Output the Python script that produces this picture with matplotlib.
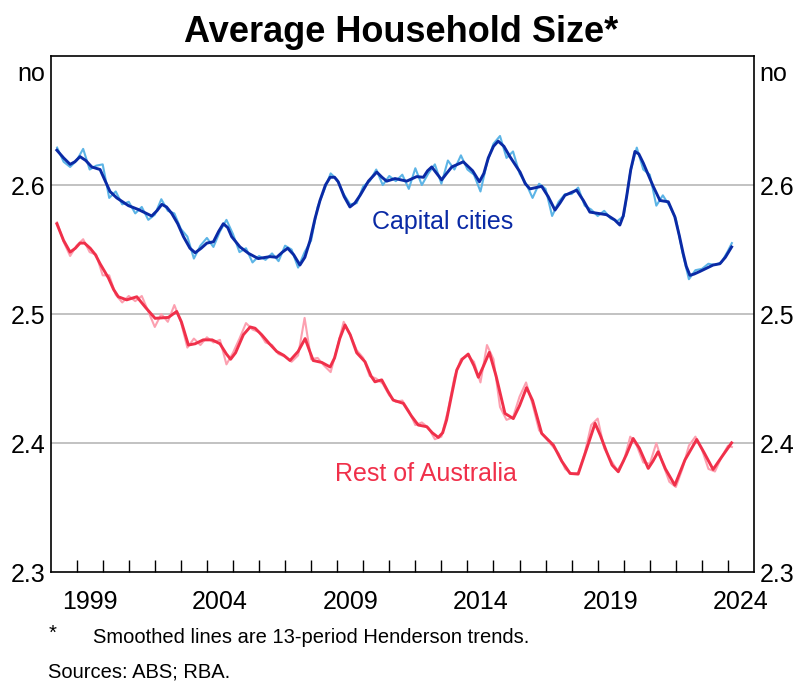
import numpy as np
import matplotlib
matplotlib.use('Agg')
import matplotlib.pyplot as plt
from matplotlib.ticker import FixedLocator, NullFormatter

plt.rcParams['font.family'] = ['Liberation Sans', 'DejaVu Sans']

# Data

# raw series, quarterly
raw_dates = [1998.25 + 0.25 * i for i in range(104)] + [2024.15]

cap_raw = [2.629, 2.618, 2.614, 2.619, 2.628, 2.612, 2.615, 2.616,
           2.590, 2.595, 2.585, 2.587, 2.578, 2.583, 2.573, 2.577,
           2.589, 2.580, 2.578, 2.566, 2.560, 2.543, 2.553, 2.559,
           2.552, 2.564, 2.573, 2.562, 2.548, 2.551, 2.540, 2.545,
           2.542, 2.547, 2.541, 2.553, 2.550, 2.536, 2.548, 2.557,
           2.583, 2.596, 2.609, 2.604, 2.593, 2.585, 2.586, 2.599,
           2.603, 2.612, 2.600, 2.607, 2.603, 2.608, 2.597, 2.613,
           2.600, 2.609, 2.616, 2.601, 2.619, 2.612, 2.623, 2.612,
           2.608, 2.595, 2.617, 2.632, 2.638, 2.621, 2.626, 2.609,
           2.601, 2.590, 2.601, 2.597, 2.576, 2.587, 2.593, 2.593,
           2.598, 2.584, 2.581, 2.576, 2.580, 2.574, 2.572, 2.576,
           2.610, 2.629, 2.612, 2.608, 2.584, 2.592, 2.584, 2.574,
           2.548, 2.527, 2.534, 2.535, 2.539, 2.538, 2.540, 2.549,
           2.555]

rest_raw = [2.571, 2.556, 2.545, 2.553, 2.558, 2.548, 2.546, 2.530,
            2.530, 2.515, 2.509, 2.514, 2.510, 2.514, 2.502, 2.490,
            2.500, 2.494, 2.507, 2.494, 2.474, 2.481, 2.476, 2.482,
            2.478, 2.480, 2.461, 2.470, 2.481, 2.493, 2.488, 2.486,
            2.478, 2.476, 2.469, 2.467, 2.463, 2.468, 2.497, 2.465,
            2.466, 2.460, 2.455, 2.474, 2.494, 2.484, 2.472, 2.466,
            2.452, 2.450, 2.446, 2.437, 2.432, 2.433, 2.425, 2.414,
            2.416, 2.412, 2.403, 2.405, 2.425, 2.451, 2.465, 2.468,
            2.463, 2.447, 2.476, 2.465, 2.428, 2.418, 2.420, 2.436,
            2.447, 2.430, 2.410, 2.404, 2.398, 2.392, 2.380, 2.376,
            2.377, 2.392, 2.414, 2.419, 2.396, 2.387, 2.379, 2.386,
            2.405, 2.398, 2.385, 2.384, 2.400, 2.384, 2.370, 2.366,
            2.380, 2.398, 2.405, 2.395, 2.380, 2.378, 2.389, 2.398,
            2.397]

# Henderson trends
cap_trend_dates = [1998.24, 1998.5, 1998.75, 1998.93, 1999.13, 1999.35, 1999.58,
                   1999.9, 2000.1, 2000.28, 2000.54, 2000.99, 2001.37, 2001.88,
                   2002.08, 2002.27, 2002.45, 2002.65, 2002.88, 2003.1, 2003.35,
                   2003.55, 2003.78, 2004.0, 2004.25, 2004.45, 2004.63, 2004.8,
                   2004.95, 2005.27, 2005.6, 2005.97, 2006.42, 2006.68, 2006.9,
                   2007.1, 2007.33, 2007.57, 2007.76, 2007.96, 2008.15, 2008.34,
                   2008.55, 2008.73, 2008.9, 2009.04, 2009.27, 2009.49, 2009.68,
                   2009.88, 2010.2, 2010.52, 2010.72, 2010.9, 2011.22, 2011.67,
                   2012.05, 2012.31, 2012.47, 2012.63, 2012.82, 2013.01, 2013.2,
                   2013.4, 2013.84, 2014.2, 2014.46, 2014.63, 2014.8, 2015.0,
                   2015.18, 2015.4, 2015.63, 2016.02, 2016.22, 2016.4, 2016.85,
                   2017.1, 2017.36, 2017.55, 2017.74, 2018.19, 2018.45, 2018.7,
                   2019.34, 2019.65, 2019.85, 2019.98, 2020.11, 2020.27, 2020.43,
                   2020.58, 2020.75, 2021.13, 2021.39, 2021.71, 2021.96, 2022.13,
                   2022.28, 2022.4, 2022.54, 2022.7, 2022.92, 2023.43, 2023.69,
                   2023.9, 2024.14]
cap_trend = [2.627, 2.621, 2.616, 2.618, 2.622, 2.619, 2.614,
             2.612, 2.603, 2.595, 2.590, 2.584, 2.581, 2.576,
             2.580, 2.585, 2.583, 2.578, 2.570, 2.560, 2.551,
             2.5475, 2.551, 2.555, 2.556, 2.564, 2.570, 2.567,
             2.560, 2.552, 2.547, 2.543, 2.5445, 2.544, 2.548,
             2.551, 2.546, 2.538, 2.544, 2.557, 2.574, 2.588,
             2.600, 2.606, 2.606, 2.6025, 2.591, 2.583, 2.586,
             2.592, 2.603, 2.610, 2.606, 2.603, 2.605, 2.603,
             2.6065, 2.606, 2.611, 2.614, 2.609, 2.604, 2.609,
             2.614, 2.618, 2.611, 2.6025, 2.609, 2.621, 2.630,
             2.634, 2.630, 2.622, 2.610, 2.601, 2.597, 2.599,
             2.591, 2.5806, 2.586, 2.592, 2.596, 2.588, 2.579,
             2.577, 2.573, 2.569, 2.576, 2.591, 2.612, 2.626,
             2.624, 2.617, 2.599, 2.588, 2.587, 2.5754, 2.561,
             2.547, 2.537, 2.530, 2.531, 2.533, 2.538, 2.539,
             2.544, 2.552]

rest_trend_dates = [1998.24, 1998.5, 1998.75, 1998.95, 1999.13, 1999.3, 1999.52,
                    1999.72, 1999.9, 2000.22, 2000.42, 2000.6, 2000.92, 2001.31,
                    2001.65, 2002.01, 2002.52, 2002.7, 2002.84, 2003.02, 2003.29,
                    2003.55, 2003.86, 2004.2, 2004.5, 2004.75, 2004.91, 2005.1,
                    2005.4, 2005.66, 2005.85, 2006.1, 2006.4, 2006.68, 2006.95,
                    2007.19, 2007.5, 2007.77, 2007.95, 2008.08, 2008.41, 2008.73,
                    2008.9, 2009.1, 2009.3, 2009.5, 2009.75, 2010.07, 2010.3,
                    2010.45, 2010.71, 2010.95, 2011.15, 2011.54, 2011.85, 2012.11,
                    2012.44, 2012.65, 2012.88, 2013.05, 2013.2, 2013.4, 2013.59,
                    2013.8, 2014.03, 2014.25, 2014.42, 2014.6, 2014.84, 2015.1,
                    2015.44, 2015.76, 2016.0, 2016.27, 2016.5, 2016.85, 2017.3,
                    2017.62, 2017.94, 2018.25, 2018.6, 2018.9, 2019.1, 2019.34,
                    2019.55, 2019.79, 2020.1, 2020.36, 2020.6, 2020.94, 2021.12,
                    2021.32, 2021.6, 2021.96, 2022.35, 2022.8, 2023.1, 2023.43,
                    2023.75, 2024.14]
rest_trend = [2.570, 2.557, 2.548, 2.551, 2.555, 2.555, 2.551,
              2.546, 2.539, 2.528, 2.519, 2.5134, 2.511, 2.5134,
              2.505, 2.4967, 2.4974, 2.500, 2.502, 2.494, 2.476,
              2.477, 2.480, 2.480, 2.477, 2.469, 2.465, 2.470,
              2.484, 2.490, 2.489, 2.484, 2.477, 2.471, 2.468,
              2.464, 2.471, 2.481, 2.471, 2.464, 2.4625, 2.459,
              2.466, 2.481, 2.4915, 2.484, 2.470, 2.463, 2.452,
              2.4475, 2.449, 2.440, 2.4333, 2.4308, 2.421, 2.414,
              2.4127, 2.408, 2.4044, 2.408, 2.418, 2.438, 2.4566,
              2.465, 2.469, 2.460, 2.451, 2.459, 2.4703, 2.452,
              2.423, 2.419, 2.429, 2.443, 2.433, 2.4075, 2.3984,
              2.386, 2.3765, 2.376, 2.397, 2.4153, 2.406, 2.3933,
              2.383, 2.3778, 2.391, 2.4036, 2.396, 2.3804, 2.386,
              2.3933, 2.380, 2.3674, 2.387, 2.4028, 2.392, 2.3796,
              2.389, 2.4002]

year_labels = [1999, 2004, 2009, 2014, 2019, 2024]
y_ticks = [2.3, 2.4, 2.5, 2.6]

# colours
cap_dark = '#0A2AA5'
cap_light = '#5CB4E6'
rest_dark = '#F0304A'
rest_light = '#FCA0B0'

fig = plt.figure(figsize=(8.03, 6.91), dpi=100)
ax = fig.add_axes([0.063, 0.172, 0.876, 0.747])

# a. gridlines
for v in [2.4, 2.5, 2.6]:
    ax.axhline(v, color='#BDBDBD', lw=1.3, zorder=1)

# b. series
ax.plot(raw_dates, cap_raw, color=cap_light, lw=1.5, zorder=2)
ax.plot(raw_dates, rest_raw, color=rest_light, lw=1.5, zorder=2)
ax.plot(cap_trend_dates, cap_trend, color=cap_dark, lw=2.1, zorder=3,
        solid_joinstyle='round')
ax.plot(rest_trend_dates, rest_trend, color=rest_dark, lw=2.1, zorder=3,
        solid_joinstyle='round')

ax.set_xlim(1998.0, 2025.0)
ax.set_ylim(2.3, 2.7)

# c. x axis: year labels mid-year, ticks at year boundaries
ax.xaxis.set_major_locator(FixedLocator([y + 0.5 for y in year_labels]))
ax.set_xticklabels([str(y) for y in year_labels])
ax.xaxis.set_minor_locator(FixedLocator(list(range(1999, 2025))))
ax.xaxis.set_minor_formatter(NullFormatter())
ax.tick_params(axis='x', which='major', length=0, pad=13, labelsize=18)
ax.tick_params(axis='x', which='minor', direction='in', length=9, width=1, color='black')

# d. y axis on both sides
ax.set_yticks(y_ticks)
ax.set_yticklabels(['2.3', '2.4', '2.5', '2.6'])
ax.tick_params(axis='y', which='both', length=0, pad=4, labelsize=18,
               left=True, right=True, labelleft=True, labelright=True)

for s in ax.spines.values():
    s.set_linewidth(1.2)
    s.set_color('black')

ax.text(-0.008, 0.965, 'no', transform=ax.transAxes, ha='right', va='center', fontsize=18)
ax.text(1.008, 0.965, 'no', transform=ax.transAxes, ha='left', va='center', fontsize=18)

# e. series labels
ax.text(2013.06, 2.5713, 'Capital cities', color=cap_dark, fontsize=18, ha='center', va='center')
ax.text(2012.41, 2.376, 'Rest of Australia', color=rest_dark, fontsize=18, ha='center', va='center')

# f. title and notes
fig.text(0.5, 0.953, 'Average Household Size*', ha='center', va='center',
         fontsize=26, fontweight='bold')
fig.text(0.060, 0.083, '*', ha='left', va='center', fontsize=14.5)
fig.text(0.116, 0.078, 'Smoothed lines are 13-period Henderson trends.', ha='left', va='center', fontsize=14.5)
fig.text(0.060, 0.028, 'Sources: ABS; RBA.', ha='left', va='center', fontsize=14.5)

fig.savefig('out.png', dpi=100)
